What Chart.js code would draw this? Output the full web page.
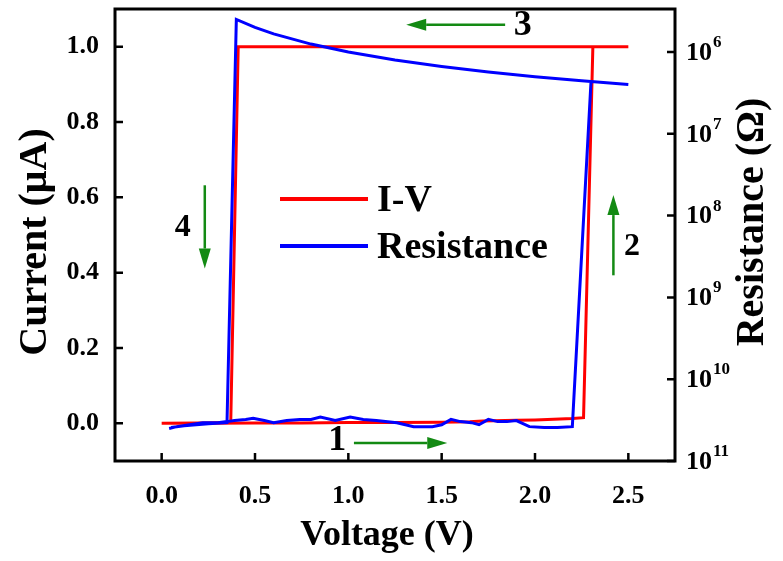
<!DOCTYPE html>
<html>
<head>
<meta charset="utf-8">
<script src="https://cdn.jsdelivr.net/npm/chart.js@4"></script>
<style>
  html, body { margin: 0; padding: 0; background: #fff; }
  #wrap { width: 783px; height: 561px; }
</style>
</head>
<body>
<div id="wrap"><canvas id="ivChart"></canvas></div>
<script>
// Werte
const ivVoltage = [0.00, 0.25, 0.50, 0.75, 1.00, 1.25, 1.50, 1.65, 1.72, 1.90, 2.00, 2.10, 2.20, 2.26, 2.31, 2.40, 2.50,
                   2.00, 1.50, 1.00, 0.50, 0.41, 0.37, 0.20, 0.00];
const ivCurrent = [0.000, 0.000, 0.001, 0.001, 0.002, 0.002, 0.003, 0.004, 0.006, 0.008, 0.009, 0.011, 0.013, 0.015, 1.000, 1.000, 1.000,
                   1.000, 1.000, 1.000, 1.000, 1.000, 0.002, 0.001, 0.000];

const resVoltage = [0.04, 0.08, 0.15, 0.22, 0.30, 0.35, 0.39, 0.45, 0.49, 0.55,
                    0.60, 0.67, 0.74, 0.80, 0.85, 0.93, 1.01, 1.08, 1.15, 1.26,
                    1.35, 1.45, 1.50, 1.55, 1.60, 1.66, 1.70, 1.75, 1.80, 1.85,
                    1.90, 1.97, 2.05, 2.12, 2.20, 2.30, 2.40, 2.50, 2.25, 2.00,
                    1.75, 1.50, 1.25, 1.00, 0.80, 0.60, 0.50, 0.40, 0.35, 0.25,
                    0.12, 0.05];
const resValues = [4.0e10, 3.8e10, 3.6e10, 3.4e10, 3.4e10, 3.3e10, 3.2e10, 3.1e10, 3.0e10, 3.2e10,
                   3.4e10, 3.2e10, 3.1e10, 3.1e10, 2.9e10, 3.2e10, 2.9e10, 3.1e10, 3.2e10, 3.4e10,
                   3.8e10, 3.8e10, 3.6e10, 3.1e10, 3.3e10, 3.4e10, 3.6e10, 3.1e10, 3.3e10, 3.3e10,
                   3.2e10, 3.8e10, 3.9e10, 3.9e10, 3.8e10, 2.3e6, 2.4e6, 2.5e6, 2.25e6, 2.0e6,
                   1.75e6, 1.5e6, 1.25e6, 1.0e6, 8.0e5, 6.0e5, 5.0e5, 4.0e5, 3.4e10, 3.5e10,
                   3.7e10, 3.9e10];

const xTickValues = [0, 0.5, 1.0, 1.5, 2.0, 2.5];
const yTickValues = [0, 0.2, 0.4, 0.6, 0.8, 1.0];
const rTickValues = [1e6, 1e7, 1e8, 1e9, 1e10, 1e11];

const seriesLabels = ['I-V', 'Resistance'];
const axisTitles = ['Voltage (V)', 'Current (\u03bcA)', 'Resistance (\u03a9)'];

// Pfeile mit Nummer (Sweep-Richtung), Lage in Achsenwerten (V, µA)
const stepLabels = ['1', '2', '3', '4'];
const stepArrows = [
  { from: [1.03, -0.052], to: [1.53, -0.052], text: [0.94, -0.047], size: 36 },
  { from: [2.42, 0.393], to: [2.42, 0.606], text: [2.52, 0.470], size: 32 },
  { from: [1.84, 1.058], to: [1.31, 1.058], text: [1.935, 1.056], size: 36 },
  { from: [0.231, 0.632], to: [0.231, 0.411], text: [0.113, 0.520], size: 32 }
];

const FONT = "'Liberation Serif', 'Times New Roman', serif";

function zip(xs, ys) {
  return xs.map((v, i) => ({ x: v, y: ys[i] }));
}

function noPadding(s) {
  s.paddingTop = 0; s.paddingBottom = 0; s.paddingLeft = 0; s.paddingRight = 0;
}

// Rahmen, Ticks nach innen, rechte Beschriftung, Titel, Legende und Pfeile
const rahmenPlugin = {
  id: 'rahmen',
  afterDatasetsDraw(chart) {
    const { ctx, chartArea: a, scales } = chart;
    const sx = scales.x, sy = scales.y, sr = scales.y2;
    ctx.save();

    ctx.strokeStyle = '#000';
    ctx.lineWidth = 3;
    ctx.strokeRect(a.left, a.top, a.right - a.left, a.bottom - a.top);

    ctx.lineWidth = 2.5;
    ctx.beginPath();
    xTickValues.forEach(v => {
      const px = sx.getPixelForValue(v);
      ctx.moveTo(px, a.bottom); ctx.lineTo(px, a.bottom - 8);
    });
    yTickValues.forEach(v => {
      const py = sy.getPixelForValue(v);
      ctx.moveTo(a.left, py); ctx.lineTo(a.left + 8, py);
    });
    rTickValues.forEach(v => {
      const py = sr.getPixelForValue(v);
      ctx.moveTo(a.right, py); ctx.lineTo(a.right - 8, py);
    });
    ctx.stroke();

    // rechte Achse: 10 hoch n
    ctx.fillStyle = '#000';
    rTickValues.forEach(v => {
      const py = sr.getPixelForValue(v);
      const ex = String(Math.round(Math.log10(v)));
      ctx.font = 'bold 26px ' + FONT;
      ctx.textAlign = 'left';
      ctx.textBaseline = 'middle';
      ctx.fillText('10', a.right + 11, py + 1);
      const w = ctx.measureText('10').width;
      ctx.font = 'bold 17px ' + FONT;
      ctx.textBaseline = 'alphabetic';
      ctx.fillText(ex, a.right + 12 + w, py - 5);
    });

    // Achsentitel
    ctx.font = 'bold 36px ' + FONT;
    ctx.textAlign = 'center';
    ctx.textBaseline = 'alphabetic';
    ctx.fillText(axisTitles[0], (a.left + a.right) / 2 - 8, a.bottom + 84);

    ctx.font = 'bold 40px ' + FONT;
    ctx.save();
    ctx.translate(46, 242);
    ctx.rotate(-Math.PI / 2);
    ctx.fillText(axisTitles[1], 0, 0);
    ctx.restore();

    ctx.save();
    ctx.translate(763, 222);
    ctx.rotate(-Math.PI / 2);
    ctx.fillText(axisTitles[2], 0, 0);
    ctx.restore();

    // Legende
    ctx.font = 'bold 38px ' + FONT;
    chart.data.datasets.forEach((ds, i) => {
      const ly = 199 + i * 47;
      ctx.strokeStyle = ds.borderColor;
      ctx.lineWidth = 4;
      ctx.beginPath();
      ctx.moveTo(280, ly); ctx.lineTo(368, ly);
      ctx.stroke();
      ctx.fillStyle = '#000';
      ctx.textAlign = 'left';
      ctx.textBaseline = 'middle';
      ctx.fillText(ds.label, 377, ly + 2);
    });

    // Pfeile
    const green = '#138a13';
    stepArrows.forEach((ar, i) => {
      const x1 = sx.getPixelForValue(ar.from[0]), y1 = sy.getPixelForValue(ar.from[1]);
      const x2 = sx.getPixelForValue(ar.to[0]), y2 = sy.getPixelForValue(ar.to[1]);
      const ang = Math.atan2(y2 - y1, x2 - x1);
      const hl = 20, hw = 6;
      const bx = x2 - hl * Math.cos(ang), by = y2 - hl * Math.sin(ang);
      ctx.strokeStyle = green;
      ctx.fillStyle = green;
      ctx.lineWidth = 2.5;
      ctx.beginPath();
      ctx.moveTo(x1, y1); ctx.lineTo(bx, by);
      ctx.stroke();
      ctx.beginPath();
      ctx.moveTo(x2, y2);
      ctx.lineTo(bx + hw * Math.sin(ang), by - hw * Math.cos(ang));
      ctx.lineTo(bx - hw * Math.sin(ang), by + hw * Math.cos(ang));
      ctx.closePath();
      ctx.fill();

      ctx.fillStyle = '#000';
      ctx.font = 'bold ' + ar.size + 'px ' + FONT;
      ctx.textAlign = 'center';
      ctx.textBaseline = 'middle';
      ctx.fillText(stepLabels[i], sx.getPixelForValue(ar.text[0]), sy.getPixelForValue(ar.text[1]));
    });

    ctx.restore();
  }
};

const tickFont = { family: FONT, size: 26, weight: 'bold' };

new Chart(document.getElementById('ivChart'), {
  type: 'scatter',
  data: {
    datasets: [
      {
        label: seriesLabels[0],
        data: zip(ivVoltage, ivCurrent),
        yAxisID: 'y',
        showLine: true,
        borderColor: '#ff0000',
        backgroundColor: '#ff0000',
        borderWidth: 3,
        pointRadius: 0,
        tension: 0,
        order: 2
      },
      {
        label: seriesLabels[1],
        data: zip(resVoltage, resValues),
        yAxisID: 'y2',
        showLine: true,
        borderColor: '#0000ff',
        backgroundColor: '#0000ff',
        borderWidth: 3,
        pointRadius: 0,
        tension: 0,
        order: 1
      }
    ]
  },
  options: {
    responsive: true,
    maintainAspectRatio: false,
    animation: false,
    layout: { padding: { top: 9, left: 0, right: 0, bottom: 0 } },
    plugins: {
      legend: { display: false },
      tooltip: { enabled: false }
    },
    scales: {
      x: {
        type: 'linear',
        min: -0.25,
        max: 2.75,
        grid: { display: false },
        border: { display: false },
        afterBuildTicks: s => { s.ticks = xTickValues.map(v => ({ value: v })); },
        afterFit: s => { s.height = 100; noPadding(s); },
        ticks: {
          color: '#000',
          font: tickFont,
          padding: 12,
          maxRotation: 0,
          callback: v => Number(v).toFixed(1)
        }
      },
      y: {
        type: 'linear',
        position: 'left',
        min: -0.1,
        max: 1.1,
        grid: { display: false },
        border: { display: false },
        afterBuildTicks: s => { s.ticks = yTickValues.map(v => ({ value: v })); },
        afterFit: s => { s.width = 115; noPadding(s); },
        ticks: {
          color: '#000',
          font: tickFont,
          padding: 8,
          callback: v => Number(v).toFixed(1)
        }
      },
      y2: {
        type: 'logarithmic',
        position: 'right',
        reverse: true,
        min: 2.98e5,
        max: 1e11,
        grid: { display: false },
        border: { display: false },
        afterBuildTicks: s => { s.ticks = rTickValues.map(v => ({ value: v })); },
        afterFit: s => { s.width = 108; noPadding(s); },
        ticks: { display: false }
      }
    }
  },
  plugins: [rahmenPlugin]
});
</script>
</body>
</html>
